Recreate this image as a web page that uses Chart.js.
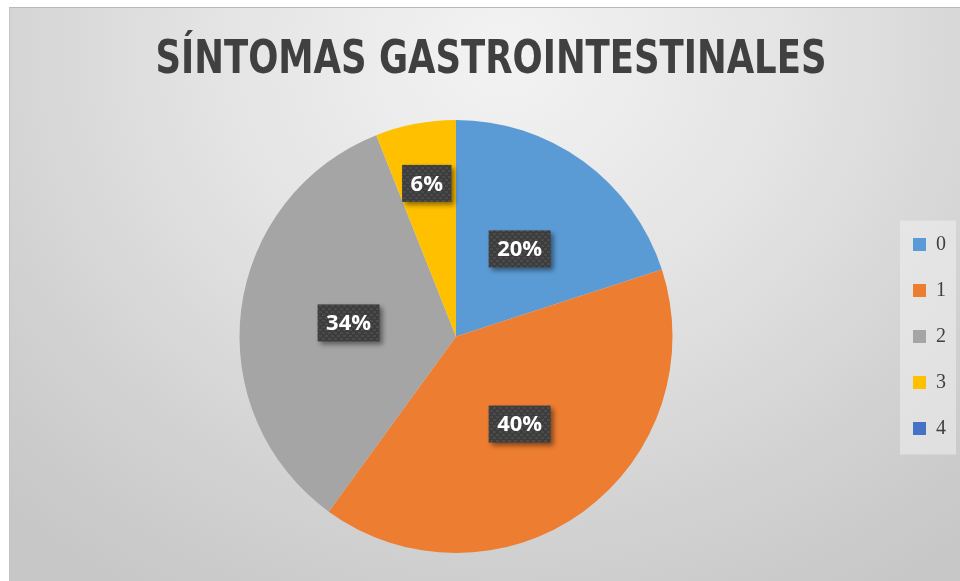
<!DOCTYPE html>
<html>
<head>
<meta charset="utf-8">
<script src="https://cdn.jsdelivr.net/npm/chart.js@4.4.1/dist/chart.umd.min.js"></script>
<style>
  html, body { margin: 0; padding: 0; background: #ffffff; }
  #wrap {
    position: absolute; left: 9px; top: 7px; width: 951px; height: 574px;
    border-top: 1px solid #b9b9b9; border-left: 1px solid #c4c4c4;
    box-sizing: border-box;
    background: radial-gradient(ellipse 75% 110% at 52% 8%, #f3f3f3 0%, #e4e4e4 40%, #d2d2d2 75%, #c7c7c7 100%);
  }
</style>
</head>
<body>
<div id="wrap"><canvas id="pieChart"></canvas></div>
<script>
// Chart data
const categories = ["0", "1", "2", "3", "4"];
const values = [20, 40, 34, 6, 0];
const sliceColors = ["#5B9BD5", "#ED7D31", "#A5A5A5", "#FFC000", "#4472C4"];
const chartTitle = "SÍNTOMAS GASTROINTESTINALES";

// small dotted texture for the label boxes
function makeTexture(ctx) {
    const c = document.createElement("canvas");
    c.width = 6; c.height = 6;
    const g = c.getContext("2d");
    g.fillStyle = "#3d3d3d";
    g.fillRect(0, 0, 6, 6);
    g.fillStyle = "#4b4b4b";
    g.fillRect(0, 0, 3, 2);
    g.fillRect(3, 3, 3, 2);
    return ctx.createPattern(c, "repeat");
}

// Title drawn narrow (Calibri-like width)
const titleText = {
    id: "titleText",
    afterDraw(chart) {
        const ctx = chart.ctx;
        ctx.save();
        ctx.font = "bold 46px 'DejaVu Sans Condensed', 'DejaVu Sans', sans-serif";
        ctx.fillStyle = "#404040";
        ctx.textAlign = "center";
        ctx.textBaseline = "middle";
        ctx.fillText(chartTitle, 481, 53.5, 671);
        ctx.restore();
    }
};

// Legend background box
const legendBox = {
    id: "legendBox",
    beforeDraw(chart) {
        const lg = chart.legend;
        if (!lg || !lg.legendHitBoxes.length) return;
        const boxes = lg.legendHitBoxes;
        const first = boxes[0], last = boxes[boxes.length - 1];
        const ctx = chart.ctx;
        ctx.save();
        ctx.fillStyle = "rgba(240,240,240,0.55)";
        const x = first.left - 13;
        const y = first.top - 14;
        ctx.fillRect(x, y, lg.right - x, last.top + last.height + 16 - y);
        ctx.restore();
    }
};

// Percentage labels in dark boxes
const pctLabels = {
    id: "pctLabels",
    afterDatasetsDraw(chart) {
        const ctx = chart.ctx;
        const meta = chart.getDatasetMeta(0);
        const data = chart.data.datasets[0].data;
        const total = data.reduce((a, b) => a + b, 0);
        const tex = makeTexture(ctx);
        meta.data.forEach((arc, i) => {
            if (!data[i]) return;
            // thin slices get their label pushed outward
            const span = arc.endAngle - arc.startAngle;
            const f = span < 0.5 ? 0.72 : 0.5;
            const mid = (arc.startAngle + arc.endAngle) / 2;
            const px = arc.x + Math.cos(mid) * arc.outerRadius * f;
            const py = arc.y + Math.sin(mid) * arc.outerRadius * f;
            const txt = Math.round(data[i] / total * 100) + "%";
            ctx.save();
            ctx.font = "bold 22px 'Open Sans', sans-serif";
            const w = ctx.measureText(txt).width + 17;
            const h = 37;
            ctx.shadowColor = "rgba(0,0,0,0.45)";
            ctx.shadowBlur = 5;
            ctx.shadowOffsetX = 3;
            ctx.shadowOffsetY = 3;
            ctx.fillStyle = tex;
            ctx.fillRect(px - w / 2, py - h / 2, w, h);
            ctx.shadowColor = "transparent";
            ctx.fillStyle = "#ffffff";
            ctx.textAlign = "center";
            ctx.textBaseline = "middle";
            ctx.fillText(txt, px, py + 1);
            ctx.restore();
        });
    }
};

const ctx = document.getElementById("pieChart").getContext("2d");
const pieChart = new Chart(ctx, {
    type: "pie",
    data: {
        labels: categories,
        datasets: [{
            data: values,
            backgroundColor: sliceColors,
            borderWidth: 0
        }]
    },
    options: {
        responsive: true,
        maintainAspectRatio: false,
        animation: false,
        layout: { padding: { left: 15, right: 4, bottom: 28, top: 112 } },
        plugins: {
            title: { display: false },
            legend: {
                position: "right",
                labels: {
                    boxWidth: 13,
                    boxHeight: 13,
                    padding: 26,
                    color: "#404040",
                    font: { family: "'Liberation Serif', serif", size: 20 }
                }
            },
            tooltip: { enabled: false }
        }
    },
    plugins: [legendBox, pctLabels, titleText]
});
</script>
</body>
</html>
